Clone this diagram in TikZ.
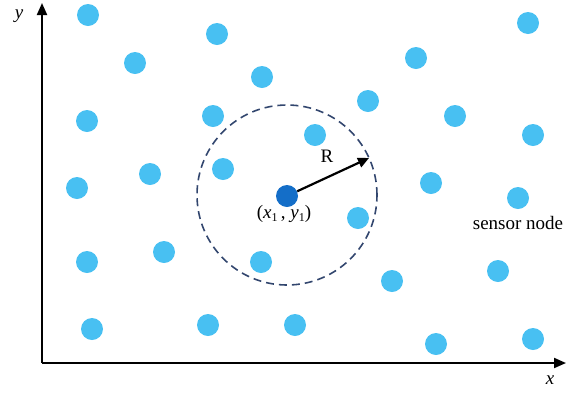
\documentclass[tikz,border=0pt]{standalone}
\usepackage{fontspec}
\setmainfont{Liberation Serif}
\usetikzlibrary{arrows.meta}
\definecolor{sensorblue}{RGB}{72,192,242}
\definecolor{headblue}{RGB}{20,110,200}
\definecolor{ringblue}{RGB}{50,70,110}
\tikzset{
  sensor/.style={circle,fill=sensorblue,inner sep=0pt,minimum size=22pt},
  head/.style={circle,fill=headblue,inner sep=0pt,minimum size=22pt},
  axis/.style={line width=2pt,-{Triangle[length=12pt,width=10pt]}},
  lbl/.style={font=\fontsize{19}{22}\selectfont,inner sep=1pt}
}
\newcommand{\sub}[1]{\raisebox{-0.3ex}{\fontsize{12}{14}\selectfont #1}}
\begin{document}
\begin{tikzpicture}[x=1pt,y=-1pt]
\useasboundingbox (0,0) rectangle (571,392);
\coordinate (o) at (42,363);
\coordinate (ytip) at (42,3);
\coordinate (xtip) at (566,363);
\draw[axis] (o) -- (ytip);
\draw[axis] (o) -- (xtip);
\node[lbl] (ylab) at (19,16) {\textit{y}};
\node[lbl] (xlab) at (550,380) {\textit{x}};
\foreach \i/\p in {1/{88,15},2/{217,34},3/{528,23},4/{135,63},5/{262,77},6/{416,58},
  7/{87,121},8/{213,116},9/{368,101},10/{455,116},11/{533,135},12/{315,135},
  13/{77,188},14/{150,174},15/{223,169},16/{431,183},17/{518,198},18/{358,218},
  19/{87,262},20/{164,252},21/{261,262},22/{392,281},23/{498,271},
  24/{92,329},25/{208,325},26/{295,325},27/{436,344},28/{533,339}}
  \node[sensor] (s\i) at (\p) {};
\node[head] (c) at (287,196) {};
\node[draw=ringblue,dash pattern=on 8pt off 5pt,line width=1.6pt,circle,minimum size=180pt,inner sep=0pt] (ring) at (287,195) {};
\coordinate (rtip) at (369,158);
\draw[line width=2.2pt,-{Triangle[length=11pt,width=10pt]}] (c) -- (rtip);
\node[lbl] (rlab) at (327,156) {R};
\node[lbl,anchor=north] (clab) at (284,204) {(\textit{x}\sub{1}\,, \textit{y}\sub{1})};
\node[lbl] (snlab) at (518,223) {sensor node};
\end{tikzpicture}
\end{document}
